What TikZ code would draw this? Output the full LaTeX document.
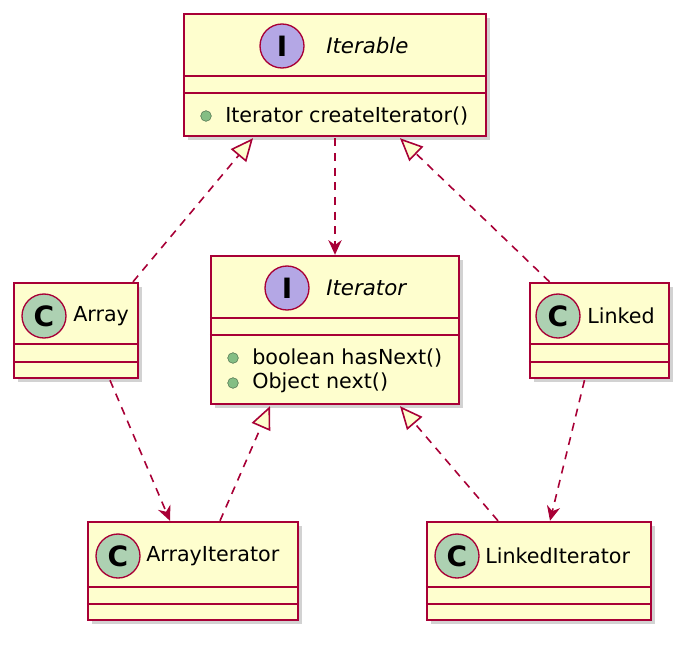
\documentclass[tikz,border=0pt]{standalone}
\usepackage{fontspec}
\setmainfont{DejaVu Sans}
\usetikzlibrary{arrows.meta,shadows,calc}
\definecolor{bd}{HTML}{A80036}
\definecolor{bg}{HTML}{FEFECE}
\definecolor{cc}{HTML}{ADD1B2}
\definecolor{ic}{HTML}{B4A7E5}
\definecolor{pub}{HTML}{84BE84}
\begin{document}
\begin{tikzpicture}[x=0.75pt,y=-0.75pt,
  box/.style={draw=bd,fill=bg,line width=1.8pt,rectangle,inner sep=0pt,drop shadow={shadow xshift=3pt,shadow yshift=-3pt,fill=black!35}},
  sep/.style={draw=bd,line width=1.8pt},
  circ/.style={circle,draw=bd,line width=1pt,minimum size=33pt,inner sep=0pt,font=\fontsize{21}{21}\selectfont\bfseries},
  txt/.style={font=\fontsize{15.5}{19}\selectfont,anchor=west,inner sep=0pt},
  ttl/.style={txt,font=\fontsize{16}{19}\selectfont\itshape},
  meth/.style={circle,fill=pub,draw=pub!60!black,minimum size=8pt,inner sep=0pt},
  dep/.style={draw=bd,line width=1.2pt,dash pattern=on 6pt off 5pt},
  real/.style={dep,-{Triangle[open,length=17pt,width=15pt,fill=bg]}},
  use/.style={dep,-{Stealth[length=11pt,width=10pt]}}]
\useasboundingbox (0,0) rectangle (695,646);
% Iterable
\node[box,minimum width=226.5pt,minimum height=91.5pt] (itb) at (335,75) {};
\draw[sep] ($(itb.north west)+(0,63)$) -- ($(itb.north east)+(0,63)$);
\draw[sep] ($(itb.north west)+(0,80)$) -- ($(itb.north east)+(0,80)$);
\node[circ,fill=ic] (itbc) at (282,46) {I};
\node[ttl] (itbn) at (326,46) {Iterable};
\node[meth] (itbm) at (206,116) {};
\node[txt] (itbt) at (225,116) {Iterator createIterator()};
% Iterator
\node[box,minimum width=186pt,minimum height=111pt] (itr) at (335,330) {};
\draw[sep] ($(itr.north west)+(0,63)$) -- ($(itr.north east)+(0,63)$);
\draw[sep] ($(itr.north west)+(0,80)$) -- ($(itr.north east)+(0,80)$);
\node[circ,fill=ic] (itrc) at (287,288) {I};
\node[ttl] (itrn) at (326,288) {Iterator};
\node[meth] (itrm1) at (233,358) {};
\node[txt] (itrt1) at (252,358) {boolean hasNext()};
\node[meth] (itrm2) at (233,383) {};
\node[txt] (itrt2) at (252,383) {Object next()};
% Array
\node[box,minimum width=93pt,minimum height=71.25pt] (arr) at (76,330.5) {};
\draw[sep] ($(arr.north west)+(0,62)$) -- ($(arr.north east)+(0,62)$);
\draw[sep] ($(arr.north west)+(0,80)$) -- ($(arr.north east)+(0,80)$);
\node[circ,fill=cc] (arrc) at (44,316) {C};
\node[txt] (arrn) at (73,316) {Array};
% Linked
\node[box,minimum width=104.25pt,minimum height=71.25pt] (lnk) at (599.5,330.5) {};
\draw[sep] ($(lnk.north west)+(0,62)$) -- ($(lnk.north east)+(0,62)$);
\draw[sep] ($(lnk.north west)+(0,80)$) -- ($(lnk.north east)+(0,80)$);
\node[circ,fill=cc] (lnkc) at (558,316) {C};
\node[txt] (lnkn) at (587,316) {Linked};
% ArrayIterator
\node[box,minimum width=157.5pt,minimum height=73.5pt] (ai) at (193,571) {};
\draw[sep] ($(ai.north west)+(0,66)$) -- ($(ai.north east)+(0,66)$);
\draw[sep] ($(ai.north west)+(0,83)$) -- ($(ai.north east)+(0,83)$);
\node[circ,fill=cc] (aic) at (118,556) {C};
\node[txt] (ain) at (146,556) {ArrayIterator};
% LinkedIterator
\node[box,minimum width=168pt,minimum height=73.5pt] (li) at (539,571) {};
\draw[sep] ($(li.north west)+(0,66)$) -- ($(li.north east)+(0,66)$);
\draw[sep] ($(li.north west)+(0,83)$) -- ($(li.north east)+(0,83)$);
\node[circ,fill=cc] (lic) at (457,556) {C};
\node[txt] (lin) at (485,556) {LinkedIterator};
% connectors
\draw[real] ($(arr.north)+(57,0)$) -- ($(itb.south)+(-82,1)$);
\draw[real] ($(lnk.north)+(-50,0)$) -- ($(itb.south)+(65,1)$);
\draw[use] ($(itb.south)+(0,1)$) -- (itr.north);
\draw[use] ($(arr.south)+(34,1)$) -- ($(ai.north)+(-23,0)$);
\draw[use] ($(lnk.south)+(-15,1)$) -- ($(li.north)+(11,0)$);
\draw[real] ($(ai.north)+(27,0)$) -- ($(itr.south)+(-65,1)$);
\draw[real] ($(li.north)+(-41,0)$) -- ($(itr.south)+(65,1)$);
\end{tikzpicture}
\end{document}
